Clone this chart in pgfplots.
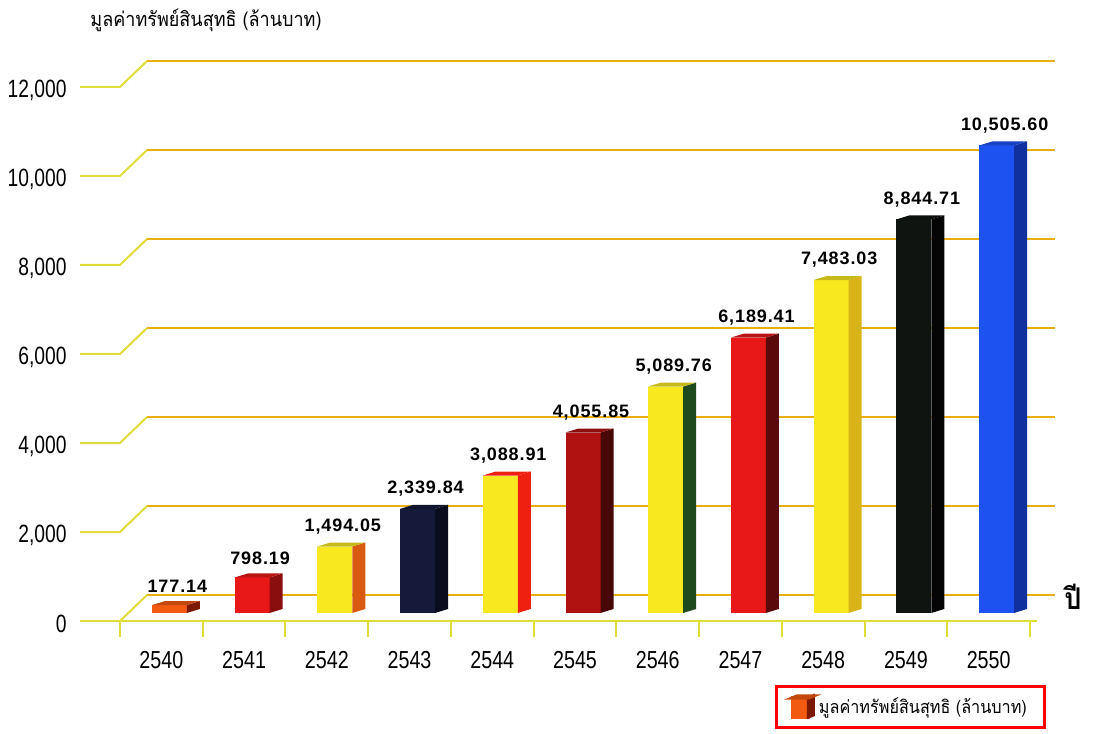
\documentclass[border=0pt]{standalone}
\usepackage{fontspec}
\setmainfont{Liberation Sans}
\newfontfamily\narrow[FakeStretch=0.77]{Liberation Sans}
\newfontfamily\xnarrow[FakeStretch=0.8]{Liberation Sans}
\newfontfamily\thaifont[Script=Thai,FakeStretch=0.9]{Loma}
\newfontfamily\valfont[LetterSpace=5]{Liberation Sans}
\usepackage{pgfplots}
\pgfplotsset{compat=1.18}

\definecolor{gridback}{HTML}{E9AE12}
\definecolor{gridfront}{HTML}{E0DC3A}
% front (f), side (s) and top (t) colours, one set per year 2540..2550
\definecolor{f0}{HTML}{F25A12}\definecolor{s0}{HTML}{7A1800}\colorlet{t0}{f0!80!black}
\definecolor{f1}{HTML}{E81818}\definecolor{s1}{HTML}{8A0E0E}\colorlet{t1}{f1!80!black}
\definecolor{f2}{HTML}{F8E820}\definecolor{s2}{HTML}{D85A10}\colorlet{t2}{f2!80!black}
\definecolor{f3}{HTML}{161A3A}\definecolor{s3}{HTML}{0A0C1E}\colorlet{t3}{f3!80!black}
\definecolor{f4}{HTML}{F8E820}\definecolor{s4}{HTML}{F02010}\colorlet{t4}{s4}
\definecolor{f5}{HTML}{B01212}\definecolor{s5}{HTML}{480808}\colorlet{t5}{f5!80!black}
\definecolor{f6}{HTML}{F8E820}\definecolor{s6}{HTML}{1E4A1E}\colorlet{t6}{f6!80!black}
\definecolor{f7}{HTML}{E81818}\definecolor{s7}{HTML}{5A0A0A}\colorlet{t7}{f7!80!black}
\definecolor{f8}{HTML}{F8E820}\definecolor{s8}{HTML}{D8B418}\colorlet{t8}{f8!80!black}
\definecolor{f9}{HTML}{101410}\definecolor{s9}{HTML}{050505}\colorlet{t9}{f9!80!black}
\definecolor{f10}{HTML}{1E52F0}\definecolor{s10}{HTML}{1030A0}\colorlet{t10}{f10!80!black}

% 3d box mark, drawn down from the data point; 1 unit = 0.02225pt
\pgfdeclareplotmark{box3d}{%
  \pgfmathtruncatemacro\idx{round(\rawx)}%
  \pgfmathsetmacro\hh{\rawy*0.02225}%
  \pgfmathsetmacro\yb{4-\hh}%
  \pgfmathsetmacro\yc{6-\hh}%
  \pgfsetfillcolor{f\idx}%
  \pgfpathrectangle{\pgfpoint{-4.75pt}{\yb pt}}{\pgfpoint{17.5pt}{\hh pt}}%
  \pgfusepath{fill}%
  \pgfsetfillcolor{s\idx}%
  \pgfpathmoveto{\pgfpoint{12.75pt}{\yb pt}}%
  \pgfpathlineto{\pgfpoint{12.75pt}{4pt}}%
  \pgfpathlineto{\pgfpoint{19.25pt}{6pt}}%
  \pgfpathlineto{\pgfpoint{19.25pt}{\yc pt}}%
  \pgfpathclose\pgfusepath{fill}%
  \pgfsetfillcolor{t\idx}%
  \pgfpathmoveto{\pgfpoint{-4.75pt}{4pt}}%
  \pgfpathlineto{\pgfpoint{12.75pt}{4pt}}%
  \pgfpathlineto{\pgfpoint{19.25pt}{6pt}}%
  \pgfpathlineto{\pgfpoint{1.75pt}{6pt}}%
  \pgfpathclose\pgfusepath{fill}%
}

\begin{document}
\begin{tikzpicture}
\useasboundingbox (0,0) rectangle (547.5pt,366.5pt);
\begin{axis}[
  at={(60pt,56pt)}, anchor=south west,
  scale only axis, width=455pt, height=267pt,
  xmin=-0.5, xmax=10.5, ymin=0, ymax=12000,
  clip=false,
  axis line style={draw=none}, tick style={draw=none},
  major tick length=0pt,
  xtick={0,...,10},
  xticklabels={2540,2541,2542,2543,2544,2545,2546,2547,2548,2549,2550},
  xticklabel style={anchor=center, yshift=-19.5pt, inner sep=0pt,
    font=\xnarrow\fontsize{12.3}{13}\selectfont},
  ytick={0,2000,...,12000}, scaled y ticks=false,
  /pgf/number format/assume math mode=true,
  yticklabel style={anchor=east, xshift=-26.5pt, yshift=-1.5pt, inner sep=0pt,
    font=\narrow\fontsize{12.5}{13}\selectfont,
    /pgf/number format/1000 sep={,}},
  legend style={at={(0.869,-0.161)}, anchor=center, draw=red, line width=1.6pt,
    inner xsep=7pt, inner ysep=3.5pt,
    font=\thaifont\fontsize{9}{10}\selectfont},
]
% walls: front stub, diagonal and back line for each level
\pgfplotsinvokeforeach{2000,4000,6000,8000,10000,12000}{
  \draw[gridfront, line width=1pt] ([xshift=-20pt]axis cs:-0.5,#1) -- (axis cs:-0.5,#1)
     -- ([shift={(13.5pt,13pt)}]axis cs:-0.5,#1);
  \draw[gridback, line width=1pt] ([shift={(13.5pt,13pt)}]axis cs:-0.5,#1)
     -- ([shift={(12.5pt,13pt)}]axis cs:10.5,#1);
}
\draw[gridback, line width=1pt] ([shift={(13.5pt,13pt)}]axis cs:-0.5,0)
   -- ([shift={(12.5pt,13pt)}]axis cs:10.5,0);
\draw[gridfront, line width=1pt] (axis cs:-0.5,0) -- ([shift={(13.5pt,13pt)}]axis cs:-0.5,0);
\draw[gridfront, line width=1pt] ([xshift=-20pt]axis cs:-0.5,0) -- ([xshift=3.5pt]axis cs:10.5,0);
\pgfplotsinvokeforeach{-0.5,0.5,1.5,2.5,3.5,4.5,5.5,6.5,7.5,8.5,9.5,10.5}{
  \draw[gridfront, line width=1pt] (axis cs:#1,0) -- ([yshift=-8pt]axis cs:#1,0);
}

\addplot[only marks, mark=box3d,
  visualization depends on={rawx \as \rawx},
  visualization depends on={rawy \as \rawy},
  nodes near coords,
  every node near coord/.append style={anchor=south, xshift=8pt, yshift=10pt,
    inner sep=0pt, black, font=\valfont\bfseries\fontsize{9}{10}\selectfont,
    /pgf/number format/.cd, fixed, fixed zerofill, precision=2, 1000 sep={,},
    assume math mode=true},
  legend image code/.code={
    \fill[f0] (0pt,-5pt) rectangle (8pt,4.5pt);
    \fill[s0] (8pt,-5pt) -- (8pt,4.5pt) -- (10.5pt,5.5pt) -- (10.5pt,-4pt) -- cycle;
    \fill[t0] (0pt,4.5pt) -- (8pt,4.5pt) -- (10.5pt,5.5pt) -- (2.5pt,5.5pt) -- cycle;
  },
] coordinates {
  (0,177.14) (1,798.19) (2,1494.05) (3,2339.84) (4,3088.91) (5,4055.85)
  (6,5089.76) (7,6189.41) (8,7483.03) (9,8844.71) (10,10505.60)
};
\addlegendentry{มูลค่าทรัพย์สินสุทธิ (ล้านบาท)}

\node[font=\thaifont\bfseries\fontsize{15}{16}\selectfont, anchor=west, inner sep=0pt]
  at ([shift={(17pt,12pt)}]axis cs:10.5,0) {ปี};
\end{axis}
\node[font=\thaifont\fontsize{10}{12}\selectfont, inner sep=0pt] at (103pt,356.5pt)
  {มูลค่าทรัพย์สินสุทธิ (ล้านบาท)};
\end{tikzpicture}
\end{document}
